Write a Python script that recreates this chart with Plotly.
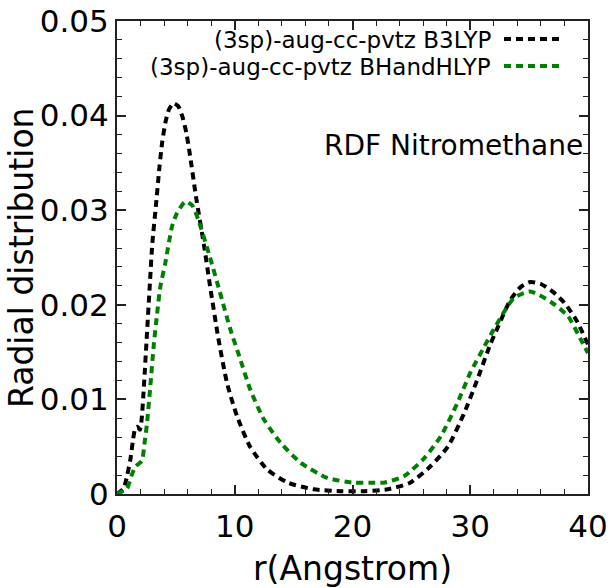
import plotly.graph_objects as go

# ---- data ----
r_b3lyp = [0, 0.57, 0.85, 1.13, 1.36, 1.56, 1.75, 1.95, 2.1, 2.3, 2.5, 2.8, 3.0, 3.3, 3.6, 3.83,
           4.1, 4.4, 4.8, 5.2, 5.6, 5.9, 6.2, 6.7, 7.4, 7.9, 8.6, 9.35, 10.2, 11.3, 12.75,
           14.5, 16.7, 19.0, 21.0, 23.0, 24.9, 26.6, 28.1, 29.5, 30.6, 31.7, 32.4, 33.4,
           34.3, 35.1, 36.0, 37.0, 38.0, 39.0, 40.0]
g_b3lyp = [0, 0.0006, 0.0019, 0.0036, 0.0057, 0.0070, 0.0071, 0.0068, 0.0080, 0.0117, 0.0160,
           0.0224, 0.0265, 0.0304, 0.0345, 0.0371, 0.0392, 0.0406, 0.0413, 0.0410, 0.0397,
           0.0381, 0.0358, 0.0315, 0.0262, 0.0220, 0.0165, 0.0117, 0.0082, 0.0050, 0.0026,
           0.0012, 0.0005, 0.0003, 0.0003, 0.0005, 0.0012, 0.0029, 0.0050, 0.0086, 0.0121,
           0.0158, 0.0178, 0.0205, 0.0219, 0.0224, 0.0222, 0.0214, 0.0202, 0.0184, 0.0158]

r_bhh = [0, 0.85, 1.22, 1.56, 1.85, 2.12, 2.35, 2.55, 2.83, 3.11, 3.4, 3.68, 4.1, 4.68, 5.1,
         5.8, 6.4, 6.9, 7.9, 8.7, 9.63, 10.48, 11.33, 12.47, 13.9, 15.6, 17.86, 20.1, 21.8,
         22.7, 24.4, 26.1, 27.5, 28.9, 30.0, 31.2, 32.0, 33.7, 35.1, 36.85, 38.3, 39.4, 40.0]
g_bhh = [0, 0.0006, 0.0019, 0.0029, 0.0032, 0.0035, 0.0055, 0.0075, 0.0114, 0.0156, 0.0190,
         0.0219, 0.0244, 0.0283, 0.0297, 0.0309, 0.0305, 0.0290, 0.0250, 0.0215, 0.0174,
         0.0142, 0.0110, 0.0079, 0.0054, 0.0033, 0.0017, 0.0012, 0.0012, 0.0012, 0.0019,
         0.0038, 0.0061, 0.0096, 0.0128, 0.0156, 0.0174, 0.0207, 0.0214, 0.0203, 0.0188,
         0.0163, 0.0149]

series_names = ["(3sp)-aug-cc-pvtz B3LYP", "(3sp)-aug-cc-pvtz BHandHLYP"]
series_colors = ["black", "green"]

x_ticks = [0, 10, 20, 30, 40]
x_ticktext = ["0", "10", "20", "30", "40"]
y_ticks = [0, 0.01, 0.02, 0.03, 0.04, 0.05]
y_ticktext = ["0", "0.01", "0.02", "0.03", "0.04", "0.05"]

FONT = "DejaVu Sans"
DASH = "7px,5px"

fig = go.Figure()
for rr, gg, name, col in [(r_b3lyp, g_b3lyp, series_names[0], series_colors[0]),
                          (r_bhh, g_bhh, series_names[1], series_colors[1])]:
    fig.add_trace(go.Scatter(x=rr, y=gg, mode="lines", name=name,
                             line=dict(color=col, width=4, dash=DASH, shape="spline", smoothing=0.6),
                             showlegend=False))

axis_common = dict(showline=True, linecolor="#222", linewidth=2, mirror="allticks",
                   ticks="inside", ticklen=9, tickwidth=1.5, tickcolor="#222",
                   showgrid=False, zeroline=False, automargin=False,
                   tickfont=dict(family=FONT, size=31, color="black"))

fig.update_xaxes(range=[0, 40], tickvals=x_ticks, ticktext=x_ticktext, ticklabelstandoff=4,
                 minor=dict(dtick=2, ticks="inside", ticklen=5, tickwidth=1, tickcolor="#222"),
                 **axis_common)
fig.update_yaxes(range=[0, 0.05], tickvals=y_ticks, ticktext=y_ticktext,
                 minor=dict(dtick=0.002, ticks="inside", ticklen=5, tickwidth=1, tickcolor="#222"),
                 **axis_common)

L, R, T, B = 117, 28, 21, 94
W, H = 616, 588
pw, ph = W - L - R, H - T - B

def px(xp):
    return (xp - L) / pw

def py(yp):
    return (H - B - yp) / ph

annotations = [
    dict(text="Radial distribution", xref="paper", yref="paper", x=px(21), y=py(258),
         xanchor="center", yanchor="middle", textangle=-90, showarrow=False,
         font=dict(family=FONT, size=33, color="black")),
    dict(text="r(Angstrom)", xref="paper", yref="paper", x=0.5, y=py(568),
         xanchor="center", yanchor="middle", showarrow=False,
         font=dict(family=FONT, size=33, color="black")),
    dict(text="RDF Nitromethane", xref="paper", yref="paper", x=px(585), y=py(145),
         xanchor="right", yanchor="middle", showarrow=False,
         font=dict(family=FONT, size=28, color="black")),
]
shapes = []
legend_rows = [40, 67]
for name, col, yr in zip(series_names, series_colors, legend_rows):
    annotations.append(dict(text=name, xref="paper", yref="paper", x=px(493), y=py(yr),
                            xanchor="right", yanchor="middle", showarrow=False,
                            font=dict(family=FONT, size=23, color="black")))
    shapes.append(dict(type="line", xref="paper", yref="paper", x0=px(504), x1=px(564),
                       y0=py(yr - 1), y1=py(yr - 1), line=dict(color=col, width=4, dash=DASH)))

fig.update_layout(width=W, height=H, margin=dict(l=L, r=R, t=T, b=B, pad=0, autoexpand=False),
                  plot_bgcolor="white", paper_bgcolor="white",
                  annotations=annotations, shapes=shapes, showlegend=False)

fig.write_html("out.html")
